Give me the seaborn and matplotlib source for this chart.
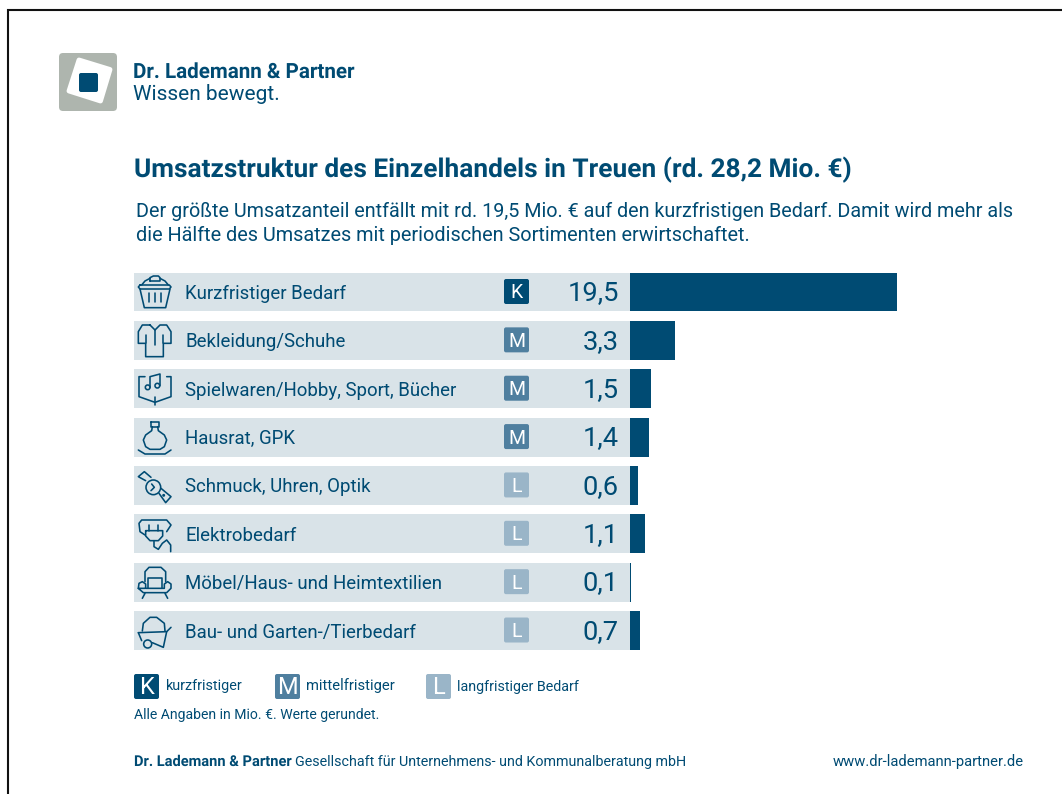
import numpy as np
import matplotlib
matplotlib.use("Agg")
import matplotlib.pyplot as plt
import seaborn as sns
from matplotlib.patches import FancyBboxPatch, Polygon, Circle

categories = ["Kurzfristiger Bedarf", "Bekleidung/Schuhe", "Spielwaren/Hobby, Sport, Bücher", "Hausrat, GPK",
              "Schmuck, Uhren, Optik", "Elektrobedarf", "Möbel/Haus- und Heimtextilien", "Bau- und Garten-/Tierbedarf"]
values = [19.5, 3.3, 1.5, 1.4, 0.6, 1.1, 0.1, 0.7]
value_labels = ["19,5", "3,3", "1,5", "1,4", "0,6", "1,1", "0,1", "0,7"]
needs = ["K", "M", "M", "M", "L", "L", "L", "L"]

BLUE = "#004b73"
MID = "#4f7f9f"
LIGHT = "#9ab5c8"
ROW = "#d9e3e8"
need_colors = {"K": BLUE, "M": MID, "L": LIGHT}

sns.set_theme(style="white")
plt.rcParams["font.family"] = ["Roboto", "DejaVu Sans"]
plt.rcParams["text.hinting"] = "no_autohint"

W, H = 1062, 794
fig = plt.figure(figsize=(W / 100, H / 100), dpi=100, facecolor="white")
PX = 13.68
Y0, DY = 292.0, 48.36
top = Y0 - DY / 2
ax = fig.add_axes([630 / W, 1 - (top + 8 * DY) / H, (W - 630) / W, 8 * DY / H])
ax.patch.set_alpha(0)
ax.barh(np.arange(8), [-(630 - 134) / PX] * 8, height=0.806, color=ROW, linewidth=0, clip_on=False, zorder=0.5)
sns.barplot(y=categories, x=values, orient="h", color=BLUE, saturation=1, width=0.806, linewidth=0, ax=ax, zorder=1)
ax.set_xlim(0, (W - 630) / PX)
ax.set_ylim(7.5, -0.5)
ax.set(xlabel=None, ylabel=None)
sns.despine(ax=ax, left=True, bottom=True, top=True, right=True)
ax.set_xticks([])
ax.tick_params(axis="y", length=0, pad=445 * 0.72, labelsize=13.4, labelcolor=BLUE)
for lab in ax.get_yticklabels():
    lab.set_ha("left")
    lab.set_va("center_baseline")
for i, v in enumerate(value_labels):
    ax.annotate(v, (0, i), xytext=(-11 * 0.72, -9.3 * 0.72), textcoords="offset points", ha="right", va="baseline",
                fontsize=19.6, color=BLUE)

ov = fig.add_axes([0, 0, 1, 1], zorder=5)
ov.set_xlim(0, W)
ov.set_ylim(H, 0)
ov.axis("off")
ov.patch.set_alpha(0)

renderer = fig.canvas.get_renderer()


def T(x, y, s, width=None, size=12, weight="normal", color=BLUE, ha="left"):
    t = ov.text(x, y, s, fontsize=size, fontweight=weight, color=color, ha=ha, va="baseline")
    if width is not None:
        w = t.get_window_extent(renderer).width
        t.set_fontsize(size * width / w)
    return t


def box(x, y, w, h, color, r=2.0):
    ov.add_patch(FancyBboxPatch((x + r, y + r), w - 2 * r, h - 2 * r, boxstyle=f"round,pad={r},rounding_size={r}",
                                fc=color, ec="none"))


# frame
ov.plot([8, 8, W], [H, 10, 10], color="#111111", lw=1.5, solid_joinstyle="miter", clip_on=False)

# logo
box(59, 53, 58, 58, "#aeb5ae", 4)
ov.add_patch(Polygon([(79, 60), (110, 69.5), (100.5, 101), (69, 91)], closed=True, fc="white", ec="white", lw=3.5, joinstyle="round"))
box(79, 73, 19, 19, BLUE, 2)
T(133, 78, "Dr. Ladem" + "ann & Partner", width=222, size=14, weight="bold")
T(133, 100, "Wissen bewegt.", width=147, size=14)

# headings
T(134, 177, "Umsatzstruktur des Einzelhandels in Treuen (rd. 28,2 Mio. €)", width=717, size=18, weight="bold")
T(136, 217, "Der größte Umsatzanteil entfällt mit rd. 19,5 Mio. € auf den kurzfristigen Bedarf. Damit wird mehr als",
  width=880, size=14)
T(136, 241, "die Hälfte des Umsatzes mit periodischen Sortimenten erwirtschaftet.", width=616, size=14)

# need badges per row
for i, n in enumerate(needs):
    y = Y0 + i * DY
    box(504, y - 13, 25, 25, need_colors[n], 2)
    ov.text(516.5, y + 6.5, n, color="white", fontsize=14, ha="center", va="baseline")


# icons, outlined in zoom-crop coordinates
def pl(pts, y0, closed=False):
    a = np.array(pts, float)
    if closed:
        a = np.vstack([a, a[0]])
    ov.plot(125 + a[:, 0] / 3, y0 + a[:, 1] / 3, color=BLUE, lw=1.15, solid_capstyle="round", solid_joinstyle="round")


def ci(x, y, r, y0):
    ov.add_patch(Circle((125 + x / 3, y0 + y / 3), r / 3, fc="none", ec=BLUE, lw=1.15))


A, B = 265, 460
# basket
pl([(75, 48), (75, 38), (85, 33), (100, 33), (105, 38), (105, 48), (75, 48)], A)
pl([(50, 60), (60, 48), (75, 40)], A)
pl([(105, 40), (120, 48), (130, 60)], A)
pl([(45, 60), (133, 60), (138, 66), (133, 72), (45, 72), (40, 66)], A, True)
pl([(45, 72), (58, 128), (122, 128), (135, 72)], A)
for x in (72, 90, 108):
    pl([(x, 85), (x, 112)], A)
# shirt
pl([(75, 180), (52, 180), (40, 200), (40, 235), (62, 235), (62, 275), (115, 275), (115, 235), (138, 235), (138, 200),
    (125, 180), (105, 180), (90, 195), (75, 180)], A)
pl([(62, 210), (62, 235)], A)
pl([(115, 210), (115, 235)], A)
pl([(90, 195), (90, 240)], A)
# book with notes
pl([(60, 335), (42, 335), (42, 395), (90, 412), (138, 395), (138, 335), (125, 335)], A)
pl([(90, 395), (90, 420)], A)
ci(68, 367, 7, A)
ci(97, 362, 7, A)
pl([(75, 367), (75, 335), (105, 327), (105, 362)], A)
# vase
pl([(78, 472), (102, 472), (102, 485), (78, 485)], A, True)
pl([(82, 485), (80, 497), (62, 510), (55, 525), (62, 545), (75, 553), (105, 553), (118, 545), (125, 525), (118, 510),
    (100, 497), (98, 485)], A)
pl([(40, 555), (60, 567), (120, 567), (138, 555)], A)
# watch
pl([(62, 62), (40, 50), (58, 35), (78, 52)], B)
ci(85, 82, 22, B)
pl([(80, 72), (88, 82), (78, 92)], B)
pl([(102, 100), (122, 128), (138, 110), (108, 85)], B)
ci(116, 106, 2, B)
# plug
pl([(60, 225), (45, 215), (42, 190), (50, 180), (125, 180), (138, 195), (125, 215)], B)
pl([(72, 195), (72, 212)], B)
pl([(100, 195), (100, 212)], B)
pl([(62, 212), (113, 212), (113, 228), (100, 242), (75, 242), (62, 228)], B, True)
pl([(87, 242), (87, 260), (100, 268), (112, 250), (125, 240), (137, 255), (137, 275)], B)
# armchair
pl([(60, 365), (60, 335), (72, 322), (108, 322), (122, 335), (122, 365)], B)
pl([(70, 385), (70, 355), (110, 355), (110, 385)], B)
pl([(60, 385), (40, 385), (42, 370), (52, 365), (62, 372), (62, 385), (118, 385), (118, 372), (128, 365), (138, 372),
    (138, 385), (125, 398), (55, 398), (40, 385)], B)
pl([(60, 400), (52, 415)], B)
pl([(120, 400), (128, 415)], B)
# wheelbarrow
pl([(52, 513), (55, 490), (75, 472), (95, 472), (118, 490), (120, 513)], B)
pl([(40, 518), (125, 515), (138, 502)], B)
pl([(40, 518), (50, 542)], B)
pl([(125, 515), (115, 562), (82, 548)], B)
ci(68, 552, 12, B)

# legend and notes
for x, n in ((134, "K"), (275, "M"), (426, "L")):
    box(x, 674, 25, 25, need_colors[n], 2)
    ov.text(x + 12.5, 694.5, n, color="white", fontsize=17, ha="center", va="baseline")
T(165, 690, "kurzfristiger", width=77, size=10)
T(306, 690, "mittelfristiger", width=88, size=10)
T(457, 691, "langfristiger Bedarf", width=122, size=10)
T(134, 719, "Alle Angaben in Mio. €. Werte gerundet.", width=245, size=10)
T(134, 766, "Dr. Lademann & Partner", width=158, size=10, weight="bold")
T(295, 766, "Gesellschaft für Unternehmens- und Kommunalberatung mbH", width=392, size=10)
T(833, 766, "www.dr-ladem" + "ann-partner.de", width=191, size=10)

fig.savefig("out.png", dpi=100, facecolor="white")
